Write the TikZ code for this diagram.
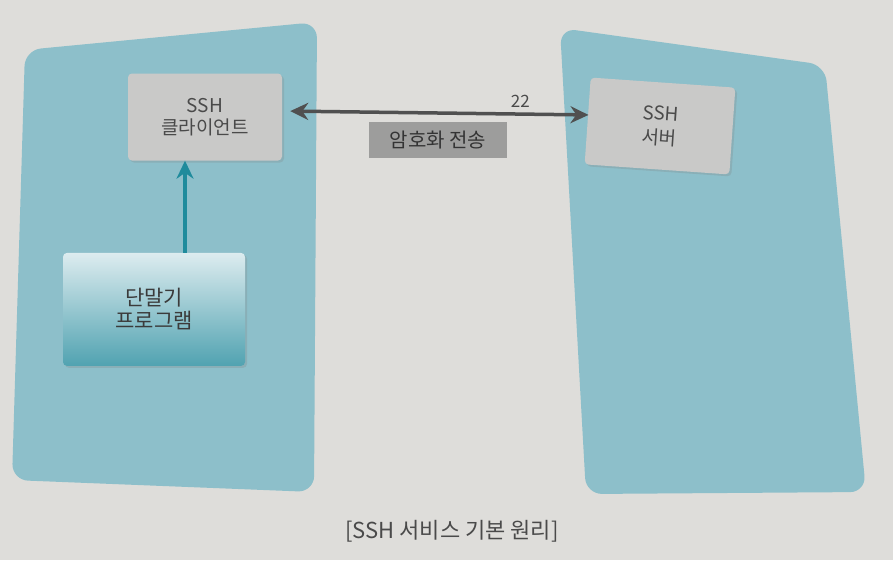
\documentclass[tikz,border=0pt]{standalone}
\usepackage{fontspec}
\setmainfont{Noto Sans CJK KR}
\usetikzlibrary{positioning,arrows.meta,shadows}
\definecolor{paper}{HTML}{DEDDDA}
\definecolor{panelblue}{HTML}{8DBFCA}
\definecolor{boxgray}{HTML}{C9C9C8}
\definecolor{lblgray}{HTML}{9D9D9C}
\definecolor{arrowgray}{HTML}{505050}
\definecolor{teal}{HTML}{1F8B9C}
\definecolor{txtgray}{HTML}{4A4A4A}
\tikzset{
  >={Stealth[length=18pt,width=17pt]},
  panel/.style={fill=panelblue,rounded corners=16pt},
  hostbox/.style={fill=boxgray,rounded corners=4pt,minimum width=154pt,
    minimum height=87pt,align=center,text=txtgray,font=\fontsize{19}{22}\selectfont,
    drop shadow={opacity=0.25,shadow xshift=2pt,shadow yshift=-2pt}},
  progbox/.style={top color=panelblue!30!white,bottom color=teal!55!panelblue,
    rounded corners=4pt,minimum width=182pt,minimum height=113pt,align=center,
    text=txtgray!80!black,font=\fontsize{21}{25}\selectfont,
    drop shadow={opacity=0.25,shadow xshift=2pt,shadow yshift=-2pt}},
  encbox/.style={fill=lblgray,minimum width=138pt,minimum height=36pt,
    text=txtgray!70!black,font=\fontsize{20}{22}\selectfont},
  dblflow/.style={<->,line width=3.5pt,arrowgray},
  upflow/.style={->,line width=4pt,teal},
  numlbl/.style={font=\fontsize{17}{19}\selectfont,text=txtgray},
  caplbl/.style={font=\fontsize{22}{24}\selectfont,text=txtgray},
}
\begin{document}
\begin{tikzpicture}[x=1pt,y=-1pt]
  \fill[paper] (0,0) rectangle (893,560);
  \useasboundingbox (0,0) rectangle (893,560);
  % client side and server side
  \fill[panel] (25,50) -- (317,22) -- (314,492) -- (12,480) -- cycle;
  \fill[panel] (560,28) -- (825,65) -- (866,492) -- (586,494) -- cycle;
  \node[hostbox] (client) at (205,117) {SSH\\클라이언트};
  \node[hostbox,minimum width=145pt,rotate=-4] (server) at (660,126) {SSH\\[2pt]서버};
  \node[progbox,below=92pt of client,xshift=-51pt] (term) {단말기\\[-2pt]프로그램};
  \draw[upflow] (term.north -| 185,0) -- (client.south -| 185,0);
  \draw[dblflow,shorten <=8pt,shorten >=-1pt] ([yshift=6pt]client.east) --
    node[numlbl,pos=0.78,above=1pt] (port) {22} ([yshift=6pt]server.west);
  \node[encbox] (enc) at (438,140) {암호화 전송};
  \node[caplbl] (cap) at (452,531) {[SSH 서비스 기본 원리]};
\end{tikzpicture}
\end{document}
